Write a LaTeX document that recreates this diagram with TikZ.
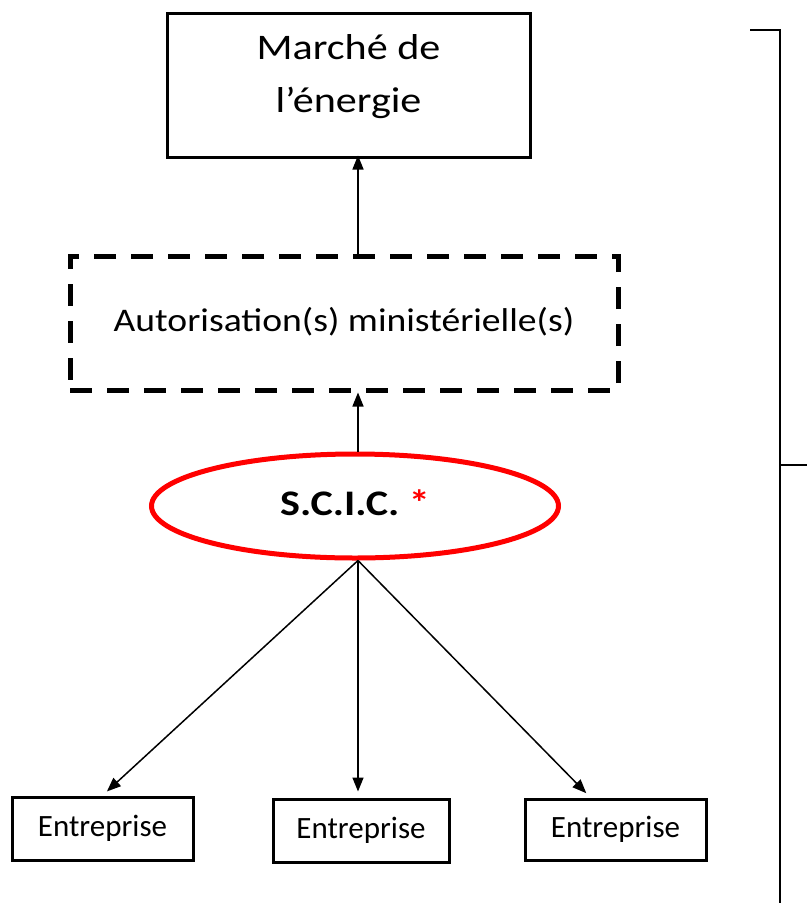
\documentclass[tikz,border=0pt]{standalone}
\usepackage{fontspec}
\usepackage{graphicx}
\setmainfont{Carlito}
\usetikzlibrary{shapes.geometric,arrows.meta}
\newcommand{\widetext}[2]{\scalebox{#1}[1]{#2}}
\begin{document}
\begin{tikzpicture}[x=1pt,y=-1pt,
  solidbox/.style={draw=black,line width=3pt,rectangle,inner sep=0pt,align=center},
  dashbox/.style={draw=black,line width=5pt,rectangle,inner sep=0pt,align=center,dash pattern=on 22pt off 15pt},
  entbox/.style={solidbox,font=\fontsize{31}{36}\selectfont,text height=22pt,text depth=7pt},
  conn/.style={draw=black,line width=1.5pt,-{Triangle[length=14pt,width=11pt]}},
  bracket/.style={draw=black,line width=1.8pt}]
\useasboundingbox (0,0) rectangle (807,903);
\node[solidbox,minimum width=363pt,minimum height=144pt,font=\fontsize{36}{53}\selectfont,text height=90pt,text depth=36pt] (marche) at (348.5,85)
  {\widetext{1.17}{\begin{tabular}[b]{@{}c@{}}Marché de\\l’énergie\end{tabular}}};
\node[dashbox,minimum width=548pt,minimum height=134pt,font=\fontsize{33}{40}\selectfont,text height=24pt,text depth=8pt] (auto) at (344,323)
  {\widetext{1.14}{Autorisation(s) ministérielle(s)}};
\node[ellipse,draw=red,line width=5pt,minimum width=407pt,minimum height=104pt,inner sep=0pt,font=\fontsize{36}{44}\selectfont\bfseries,text height=26pt,text depth=8pt] (scic) at (355,506)
  {\widetext{1.17}{S.C.I.C. \textcolor{red}{*}}};
\node[entbox,minimum width=181pt,minimum height=63pt] (e1) at (102.5,828.5) {Entreprise};
\node[entbox,minimum width=176pt,minimum height=63pt] (e2) at (361,830.5) {Entreprise};
\node[entbox,minimum width=181pt,minimum height=61pt] (e3) at (615.5,829.5) {Entreprise};
\coordinate (top) at (750,30);
\coordinate (topr) at (780,30);
\coordinate (mid) at (780,465);
\coordinate (midr) at (807,465);
\coordinate (bot) at (780,903);
\draw[bracket] (top) -- (topr) -- (bot);
\draw[bracket] (mid) -- (midr);
\draw[conn] ([xshift=3pt]scic.north) -- ([xshift=3pt]scic.north |- auto.south);
\draw[conn] ([xshift=3pt]scic.north |- auto.north) -- ([xshift=3pt,yshift=3pt]scic.north |- marche.south);
\draw[conn,shorten >=6pt] ([xshift=3pt]scic.south) -- (e1.north);
\draw[conn,shorten >=6pt] ([xshift=3pt]scic.south) -- ([xshift=3pt]scic.south |- e2.north);
\draw[conn,shorten >=6pt] ([xshift=3pt]scic.south) -- ([xshift=-25pt]e3.north);
\end{tikzpicture}
\end{document}
